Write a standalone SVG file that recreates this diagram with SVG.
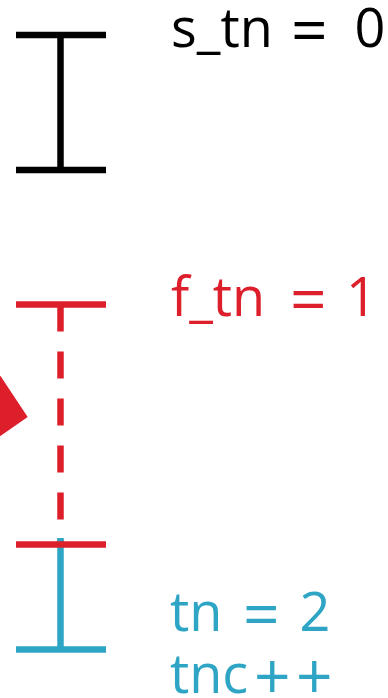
<svg xmlns="http://www.w3.org/2000/svg" width="388" height="698" viewBox="0 0 388 698">
<style>
text{font-family:"Open Sans","Noto Sans",sans-serif;font-size:54px}
.s{font-size:64px}
.k{stroke:#000;stroke-width:6.5;fill:none}
.r{stroke:#DD1F2B;stroke-width:6.5;fill:none}
.b{stroke:#2EA5C4;stroke-width:6.5;fill:none}
</style>
<rect width="388" height="698" fill="#fff"/>
<g id="connectors">
<line class="k" x1="60.5" y1="35" x2="60.5" y2="170"/>
<line class="r" x1="60.5" y1="304.5" x2="60.5" y2="545" stroke-dasharray="27 20"/>
<line class="b" x1="60.5" y1="538" x2="60.5" y2="650"/>
<polygon points="-20,345 27.7,417 -20,450" fill="#DD1F2B"/>
</g>
<g id="s_tn">
<line class="k" x1="16" y1="35" x2="106" y2="35"/>
<line class="k" x1="16" y1="170" x2="106" y2="170"/>
<text x="171" y="46.5" fill="#000">s_tn <tspan class="s" x="291" y="52.5">=</tspan> <tspan x="354.5" y="46.5">0</tspan></text>
</g>
<g id="f_tn">
<line class="r" x1="16" y1="304.5" x2="106" y2="304.5"/>
<line class="r" x1="16" y1="544.5" x2="106" y2="544.5"/>
<text x="171" y="315.7" fill="#DD1F2B">f_tn <tspan class="s" x="290" y="321.7">=</tspan> <tspan x="346" y="315.7">1</tspan></text>
</g>
<g id="tn">
<line class="b" x1="16" y1="649.5" x2="106" y2="649.5"/>
<text x="170" y="630.7" fill="#2EA5C4">tn <tspan class="s" x="243" y="636.7">=</tspan> <tspan x="299.5" y="630.7">2</tspan></text>
<text x="170" y="692.7" fill="#2EA5C4">tnc<tspan class="s" x="254" y="698.7">+</tspan><tspan class="s" x="296" y="698.7">+</tspan></text>
</g>
</svg>
